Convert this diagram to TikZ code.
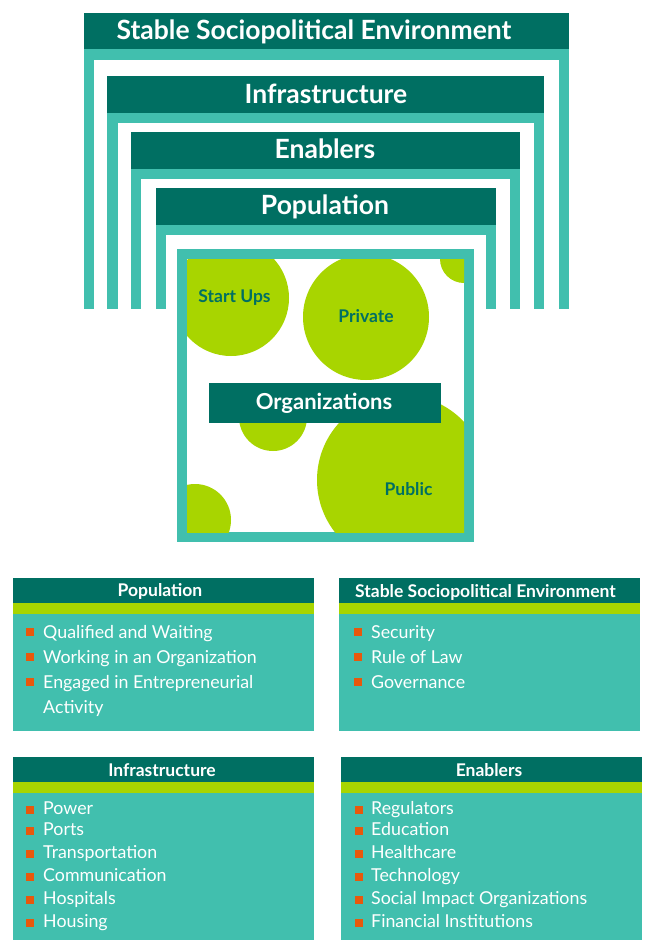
\documentclass[tikz,border=0pt]{standalone}
\usepackage{fontspec}
\setmainfont{Lato}
\definecolor{fonce}{RGB}{0,111,98}
\definecolor{clair}{RGB}{65,191,174}
\definecolor{vert}{RGB}{168,213,0}
\definecolor{puceorange}{RGB}{232,88,12}

\begin{document}
\begin{tikzpicture}[x=1pt, y=-1pt]
			\tikzset{bandeau/.style={anchor=base, text=white, inner sep=0pt, font=\bfseries\fontsize{26.5}{30}\selectfont}, titre/.style={anchor=base, text=white, inner sep=0pt, font=\bfseries\fontsize{17.5}{21}\selectfont}, bulle/.style={anchor=base, text=fonce, inner sep=0pt, font=\bfseries\fontsize{17.5}{21}\selectfont}, puce/.style={fill=puceorange, inner sep=0pt, minimum size=8pt}, item/.style={anchor=base west, text=white, inner sep=0pt, font=\fontsize{17.8}{21}\selectfont}};

			\useasboundingbox (0,0) rectangle (659,950);

			% cadres emboites
			\fill[clair] ( 84, 49) rectangle (569,309);
			\fill[white] ( 94, 60) rectangle (559,309);
			\fill[fonce] ( 84, 13) rectangle (569, 49);
			\fill[clair] (107,113) rectangle (544,309);
			\fill[white] (118,123) rectangle (534,309);
			\fill[fonce] (107, 76) rectangle (544,113);
			\fill[clair] (131,169) rectangle (520,309);
			\fill[white] (141,179) rectangle (510,309);
			\fill[fonce] (131,132) rectangle (520,169);
			\fill[clair] (156,225) rectangle (496,309);
			\fill[white] (166,235) rectangle (486,309);
			\fill[fonce] (156,188) rectangle (496,225);

			\node[bandeau] (env) at (314, 39.5) {Stable Sociopolitical Environment};
			\node[bandeau] (inf) at (326,103.5) {Infrastructure};
			\node[bandeau] (ena) at (325,158.5) {Enablers};
			\node[bandeau] (pop) at (325,214.5) {Population};

			% organisations
			\fill[clair] (177,249) rectangle (474,542);
			\fill[white] (187,259) rectangle (464,532);
			\begin{scope}
				\clip (187,259) rectangle (464,532);
				\fill[vert] (231,298) circle[radius=58pt];
				\fill[vert] (366,317) circle[radius=63pt];
				\fill[vert] (464,259) circle[radius=24pt];
				\fill[vert] (273,417) circle[radius=34pt];
				\fill[vert] (402,480) circle[radius=85pt];
				\fill[vert] (195,520) circle[radius=36pt];
			\end{scope}
			\fill[fonce] (209,383) rectangle (441,423);

			\node[bulle] (start) at (234.5,302) {Start Ups};
			\node[bulle] (priv)  at (366,322) {Private};
			\node[bulle] (publ)  at (408.5,495.5) {Public};
			\node[bandeau, font=\bfseries\fontsize{22}{26}\selectfont] (orga) at (324,409) {Organizations};

			% encadres du bas
			\fill[fonce] ( 13,578) rectangle (314,603);
			\fill[vert]  ( 13,603) rectangle (314,614);
			\fill[clair] ( 13,614) rectangle (314,731);
			\fill[fonce] (339,578) rectangle (640,603);
			\fill[vert]  (339,603) rectangle (640,614);
			\fill[clair] (339,614) rectangle (640,731);
			\fill[fonce] ( 13,757) rectangle (314,782);
			\fill[vert]  ( 13,782) rectangle (314,793);
			\fill[clair] ( 13,793) rectangle (314,940);
			\fill[fonce] (341,757) rectangle (642,782);
			\fill[vert]  (341,782) rectangle (642,793);
			\fill[clair] (341,793) rectangle (642,940);

			\node[titre] (tpop) at (160,596) {Population};
			\node[titre] (tenv) at (485.5,597) {Stable Sociopolitical Environment};
			\node[titre] (tinf) at (162,776) {Infrastructure};
			\node[titre] (tena) at (489,776) {Enablers};

			\node[puce] (p1) at ( 30,632) {};
			\node[puce] (p2) at ( 30,657) {};
			\node[puce] (p3) at ( 30,682) {};
			\node[item] (i1) at ( 43,638) {Qualified and Waiting};
			\node[item] (i2) at ( 43,663) {Working in an Organization};
			\node[item] (i3) at ( 43,688) {Engaged in Entrepreneurial};
			\node[item] (i4) at ( 43,713) {Activity};

			\node[puce] (e1) at (358,632) {};
			\node[puce] (e2) at (358,657) {};
			\node[puce] (e3) at (358,682) {};
			\node[item] (s1) at (371,638) {Security};
			\node[item] (s2) at (371,663) {Rule of Law};
			\node[item] (s3) at (371,688) {Governance};

			\node[puce] (f1) at ( 30,809.5) {};
			\node[puce] (f2) at ( 30,830.5) {};
			\node[puce] (f3) at ( 30,853.5) {};
			\node[puce] (f4) at ( 30,876.5) {};
			\node[puce] (f5) at ( 30,899.5) {};
			\node[puce] (f6) at ( 30,922.5) {};
			\node[item] (r1) at ( 43,814.5) {Power};
			\node[item] (r2) at ( 43,835.5) {Ports};
			\node[item] (r3) at ( 43,858.5) {Transportation};
			\node[item] (r4) at ( 43,881.5) {Communication};
			\node[item] (r5) at ( 43,904.5) {Hospitals};
			\node[item] (r6) at ( 43,927.5) {Housing};

			\node[puce] (g1) at (359,809.5) {};
			\node[puce] (g2) at (359,830.5) {};
			\node[puce] (g3) at (359,853.5) {};
			\node[puce] (g4) at (359,876.5) {};
			\node[puce] (g5) at (359,899.5) {};
			\node[puce] (g6) at (359,922.5) {};
			\node[item] (n1) at (371,814.5) {Regulators};
			\node[item] (n2) at (371,835.5) {Education};
			\node[item] (n3) at (371,858.5) {Healthcare};
			\node[item] (n4) at (371,881.5) {Technology};
			\node[item] (n5) at (371,904.5) {Social Impact Organizations};
			\node[item] (n6) at (371,927.5) {Financial Institutions};

		\end{tikzpicture}
\end{document}
